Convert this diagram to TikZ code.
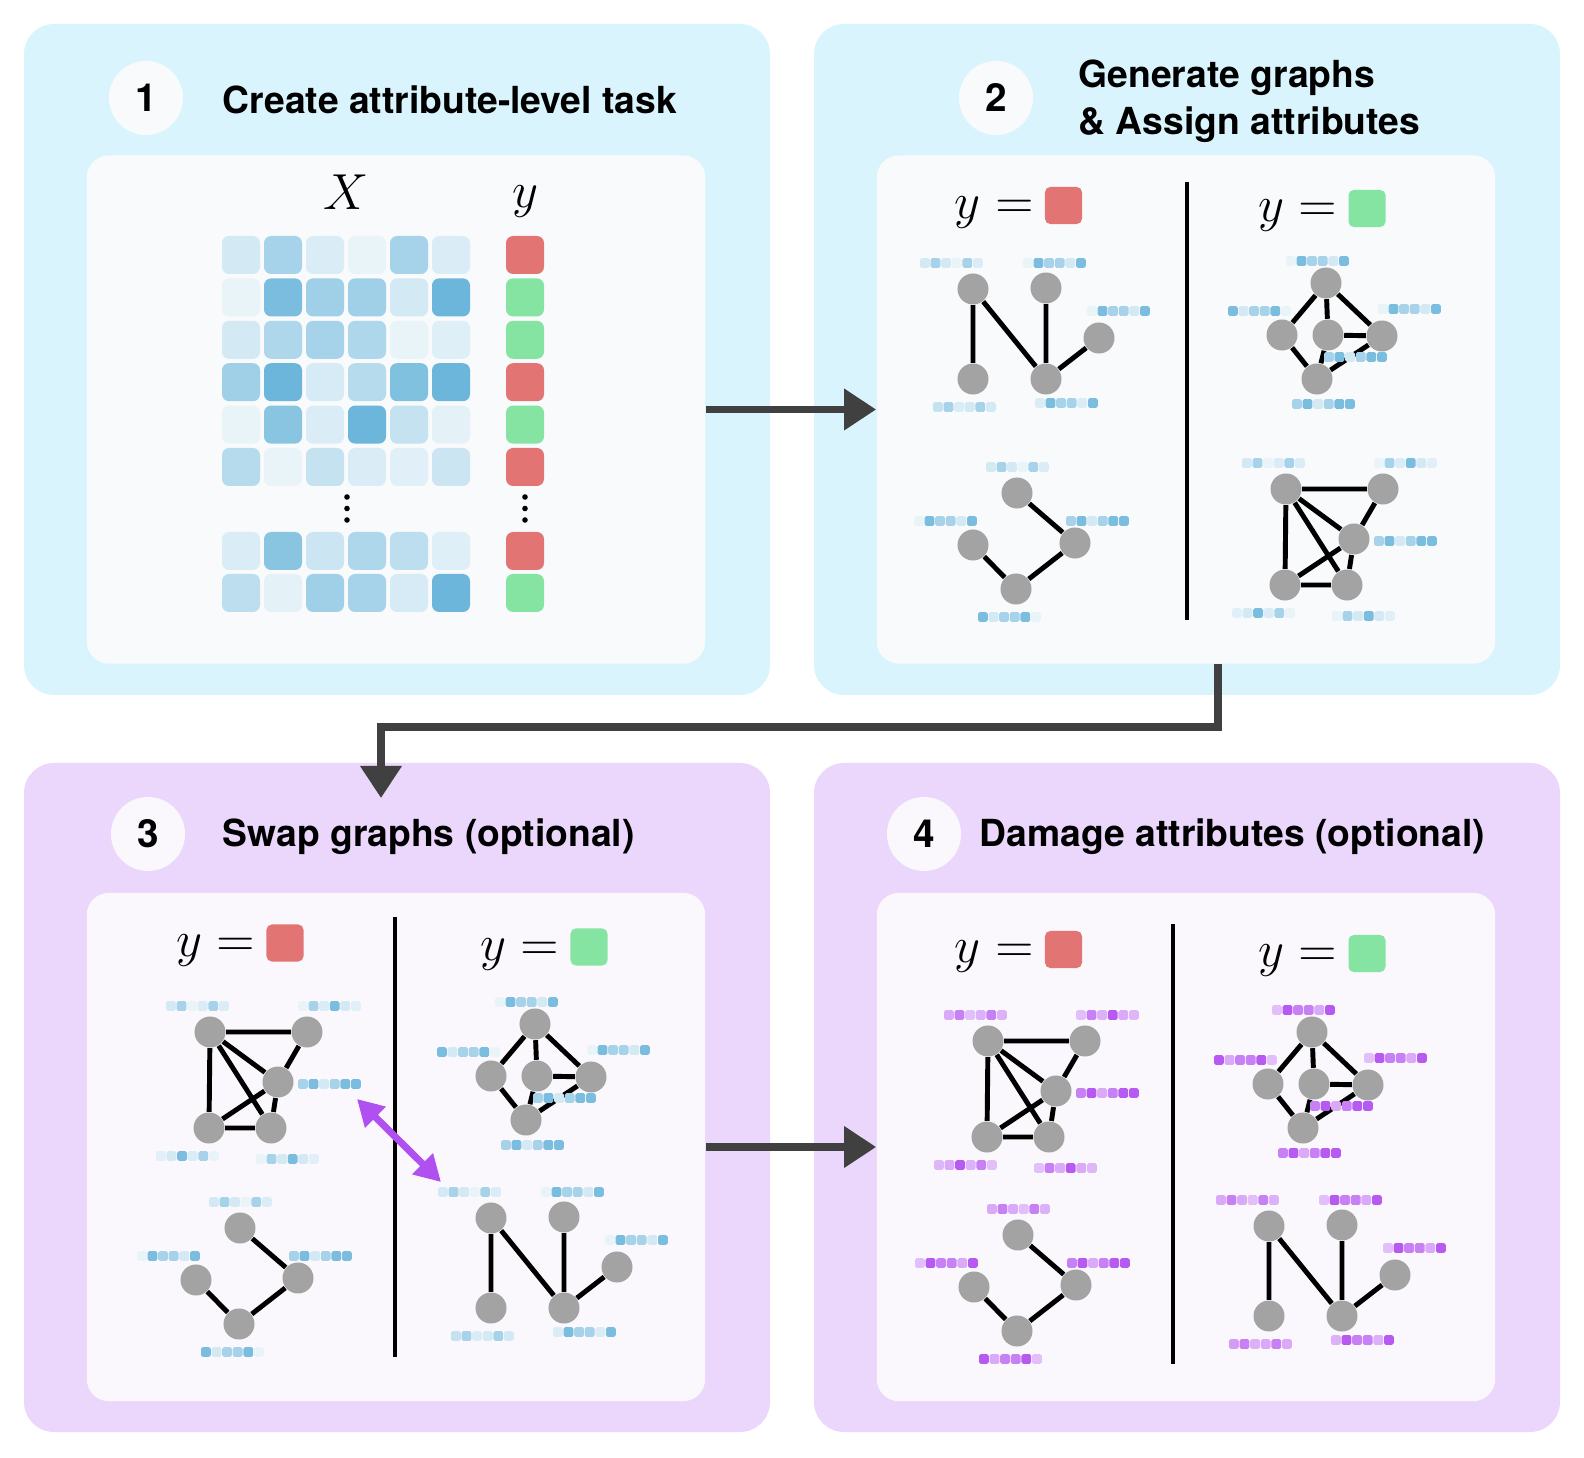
\documentclass[tikz,border=0pt]{standalone}
\usepackage{fontspec}
\setsansfont{TeX Gyre Heros}
\usetikzlibrary{arrows.meta,positioning}

\definecolor{panelblue}{HTML}{DAF4FD}
\definecolor{panelpurple}{HTML}{EAD7FB}
\definecolor{innerblue}{HTML}{F8FAFC}
\definecolor{innerpurple}{HTML}{FAF8FC}
\definecolor{cellblue}{HTML}{6BB6DA}
\definecolor{attrpurple}{HTML}{B04BF0}
\definecolor{lblred}{HTML}{E27474}
\definecolor{lblgreen}{HTML}{86E4A3}
\definecolor{nodegray}{HTML}{A3A3A3}
\definecolor{arrowgray}{HTML}{404040}
\definecolor{swappurple}{HTML}{B050F0}

% colour of the attribute squares, set before each graph
\newcommand\barcol{cellblue}
\newcommand\barfloor{0}
% six attribute squares: left x, centre y, intensities
\newcommand\attrbar[3]{%
  \foreach \k [count=\i from 0] in {#3}{
    \pgfmathtruncatemacro\kk{\barfloor+\k*(100-\barfloor)/100}
    \fill[\barcol!\kk!white, rounded corners=0.5pt] ({#1+\i*10.6},{#2-4.9}) rectangle ++(9.8,9.8);
  }%
}

% the four graphs, placed as in panel 2
\newcommand\graphN[1]{%
  \node[gnode] (#1a) at (973,289) {};
  \node[gnode] (#1b) at (1046,288) {};
  \node[gnode] (#1c) at (1099,338) {};
  \node[gnode] (#1d) at (973,379) {};
  \node[gnode] (#1e) at (1046,379) {};
  \draw[gedge] (#1a) -- (#1d) (#1a) -- (#1e) (#1b) -- (#1e) (#1c) -- (#1e);
  \attrbar{920}{263}{30,60,30,15,60,25}
  \attrbar{1023}{263}{15,90,60,60,30,90}
  \attrbar{1087}{311}{15,90,60,60,30,90}
  \attrbar{933}{407}{40,60,25,30,60,30}
  \attrbar{1035}{403}{25,90,60,60,25,90}
}
\newcommand\graphK[1]{%
  \node[gnode] (#1t) at (1326,283) {};
  \node[gnode] (#1l) at (1282,335) {};
  \node[gnode] (#1c) at (1328,335) {};
  \node[gnode] (#1r) at (1382,336) {};
  \node[gnode] (#1b) at (1317,379) {};
  \draw[gedge] (#1t) -- (#1l) (#1t) -- (#1c) (#1t) -- (#1r) (#1c) -- (#1r)
    (#1l) -- (#1b) (#1c) -- (#1b) (#1r) -- (#1b);
  \attrbar{1286}{261}{15,90,60,60,30,90}
  \attrbar{1228}{311}{90,30,60,60,90,15}
  \attrbar{1378}{309}{15,90,60,60,30,90}
  \attrbar{1324}{357}{60,90,30,60,90,90}
  \attrbar{1292}{404}{60,90,30,60,90,90}
}
\newcommand\graphS[1]{%
  \node[gnode] (#1t) at (1017,493) {};
  \node[gnode] (#1l) at (973,545) {};
  \node[gnode] (#1r) at (1075,543) {};
  \node[gnode] (#1b) at (1016,589) {};
  \draw[gedge] (#1t) -- (#1r) -- (#1b) -- (#1l);
  \attrbar{986}{467}{30,60,30,15,60,25}
  \attrbar{914}{521}{15,90,60,60,30,90}
  \attrbar{1066}{521}{60,90,30,60,90,90}
  \attrbar{978}{617}{90,30,60,60,90,15}
}
\newcommand\graphT[1]{%
  \node[gnode] (#1a) at (1286,489) {};
  \node[gnode] (#1b) at (1383,489) {};
  \node[gnode] (#1m) at (1354,539) {};
  \node[gnode] (#1c) at (1285,585) {};
  \node[gnode] (#1d) at (1347,585) {};
  \draw[gedge] (#1a) -- (#1b) (#1a) -- (#1c) (#1a) -- (#1m) (#1a) -- (#1d)
    (#1b) -- (#1m) (#1m) -- (#1c) (#1m) -- (#1d) (#1c) -- (#1d);
  \attrbar{1242}{463}{30,60,15,25,60,25}
  \attrbar{1374}{463}{15,60,25,90,30,20}
  \attrbar{1374}{541}{60,90,30,60,90,90}
  \attrbar{1232}{613}{20,30,90,25,60,15}
  \attrbar{1332}{616}{15,60,30,90,30,20}
}

\begin{document}
\begin{tikzpicture}[x=0.01cm, y=-0.01cm,
  panel/.style={rounded corners=0.3cm},
  innerbox/.style={draw=none, rounded corners=0.22cm, minimum width=6.18cm,
                   minimum height=5.08cm, inner sep=0},
  numcirc/.style={circle, minimum size=0.74cm, inner sep=0,
                  font=\sffamily\bfseries\fontsize{11}{13}\selectfont},
  title/.style={anchor=west, align=left, inner sep=0,
                font=\sffamily\bfseries\fontsize{10.6}{13.4}\selectfont},
  ytext/.style={inner sep=0, font=\fontsize{14}{16}\selectfont},
  lblsq/.style={rounded corners=1.5pt, minimum size=0.37cm, inner sep=0},
  gnode/.style={circle, fill=nodegray, minimum size=0.31cm, inner sep=0},
  gedge/.style={line width=1.4pt, black},
  bigarrow/.style={arrowgray, line width=2pt,
                   -{Triangle[length=0.32cm, width=0.4cm]}},
  swaparrow/.style={swappurple, line width=2pt,
                    {Triangle[length=0.26cm, width=0.28cm]}-{Triangle[length=0.26cm, width=0.28cm]}}
]
\useasboundingbox (0,0) rectangle (1584,1458);
\fill[white] (0,0) rectangle (1584,1458);

% panels
\fill[panel, panelblue] (24,24) rectangle (770,695);
\fill[panel, panelblue] (814,24) rectangle (1560,695);
\fill[panel, panelpurple] (24,763) rectangle (770,1432);
\fill[panel, panelpurple] (814,763) rectangle (1560,1432);

\node[innerbox, fill=innerblue] (box1) at (396,409.5) {};
\node[innerbox, fill=innerblue] (box2) at (1186,409.5) {};
\node[innerbox, fill=innerpurple] (box3) at (396,1147) {};
\node[innerbox, fill=innerpurple] (box4) at (1186,1147) {};

% headers
\node[numcirc, fill=innerblue] (num1) at (146,98) {1};
\node[title] (title1) at (222,100) {Create attribute-level task};
\node[numcirc, fill=innerblue] (num2) at (996,98) {2};
\node[title] (title2) at (1078,101) {Generate graphs\\\& Assign attributes};
\node[numcirc, fill=innerpurple] (num3) at (148,834) {3};
\node[title] (title3) at (222,837) {Swap graphs (optional)};
\node[numcirc, fill=innerpurple] (num4) at (924,834) {4};
\node[title] (title4) at (979,837) {Damage attributes (optional)};

% panel 1: the table
\node[ytext] (xlab) at (346,192) {$X$};
\node[ytext] (ylab) at (525,202) {$y$};
\foreach \row [count=\r from 0] in {{30,60,25,15,60,25},{15,90,65,65,30,100},
    {30,55,60,55,15,22},{65,100,28,50,85,100},{15,80,25,100,40,18},{50,15,40,25,20,35}}
  \foreach \k [count=\c from 0] in \row
    \fill[cellblue!\k!white, rounded corners=2pt] ({222+\c*42},{236+\r*42.4}) rectangle ++(38,38);
\foreach \row [count=\r from 0] in {{25,80,35,55,45,22},{45,18,65,60,28,100}}
  \foreach \k [count=\c from 0] in \row
    \fill[cellblue!\k!white, rounded corners=2pt] ({222+\c*42},{532+\r*42}) rectangle ++(38,38);
\foreach \col [count=\r from 0] in {lblred,lblgreen,lblgreen,lblred,lblgreen,lblred}
  \fill[\col, rounded corners=2pt] (506,{236+\r*42.4}) rectangle ++(38,38);
\fill[lblred, rounded corners=2pt] (506,532) rectangle ++(38,38);
\fill[lblgreen, rounded corners=2pt] (506,574) rectangle ++(38,38);
\foreach \yy in {497,508.5,520}{
  \fill (347,\yy) circle (2.8);
  \fill (525,\yy) circle (2.8);
}

% panel 2
\node[lblsq, fill=lblred] (sq2a) at (1063.5,205.5) {};
\node[ytext, left=0.1cm of sq2a, yshift=-2pt] (y2a) {$y=$};
\node[lblsq, fill=lblgreen] (sq2b) at (1367,208.5) {};
\node[ytext, left=0.1cm of sq2b, yshift=-2pt] (y2b) {$y=$};
\draw[line width=0.9pt] (1187,182) -- (1187,620);
\graphN{pba}
\graphS{pbb}
\graphK{pbc}
\graphT{pbd}

% panel 3
\node[lblsq, fill=lblred] (sq3a) at (285,943) {};
\node[ytext, left=0.1cm of sq3a, yshift=-2pt] (y3a) {$y=$};
\node[lblsq, fill=lblgreen] (sq3b) at (589,947) {};
\node[ytext, left=0.1cm of sq3b, yshift=-2pt] (y3b) {$y=$};
\draw[line width=0.9pt] (395,917) -- (395,1357);
\begin{scope}[shift={(-1076,543)}] \graphT{pca} \end{scope}
\begin{scope}[shift={(-777,735)}] \graphS{pcb} \end{scope}
\begin{scope}[shift={(-791,741)}] \graphK{pcc} \end{scope}
\begin{scope}[shift={(-482,929)}] \graphN{pcd} \end{scope}
\coordinate (swapA) at (357,1099);
\coordinate (swapB) at (441,1182);
\draw[swaparrow] (swapA) -- (swapB);

% panel 4
\node[lblsq, fill=lblred] (sq4a) at (1063.5,949.5) {};
\node[ytext, left=0.1cm of sq4a, yshift=-2pt] (y4a) {$y=$};
\node[lblsq, fill=lblgreen] (sq4b) at (1367,953.5) {};
\node[ytext, left=0.1cm of sq4b, yshift=-2pt] (y4b) {$y=$};
\draw[line width=0.9pt] (1173,924) -- (1173,1364);
\renewcommand\barcol{attrpurple}
\renewcommand\barfloor{25}
\begin{scope}[shift={(-298,552)}] \graphT{pda} \end{scope}
\begin{scope}[shift={(1,742)}] \graphS{pdb} \end{scope}
\begin{scope}[shift={(-14,749)}] \graphK{pdc} \end{scope}
\begin{scope}[shift={(296,937)}] \graphN{pdd} \end{scope}

% arrows between the steps
\coordinate (elbow) at (1218,727);
\coordinate (tip3) at (381,798);
\draw[bigarrow] (box1.east) -- (box2.west);
\draw[bigarrow] (box2.south -| elbow) -- (elbow) -| (tip3);
\draw[bigarrow] (box3.east) -- (box4.west);
\end{tikzpicture}
\end{document}
